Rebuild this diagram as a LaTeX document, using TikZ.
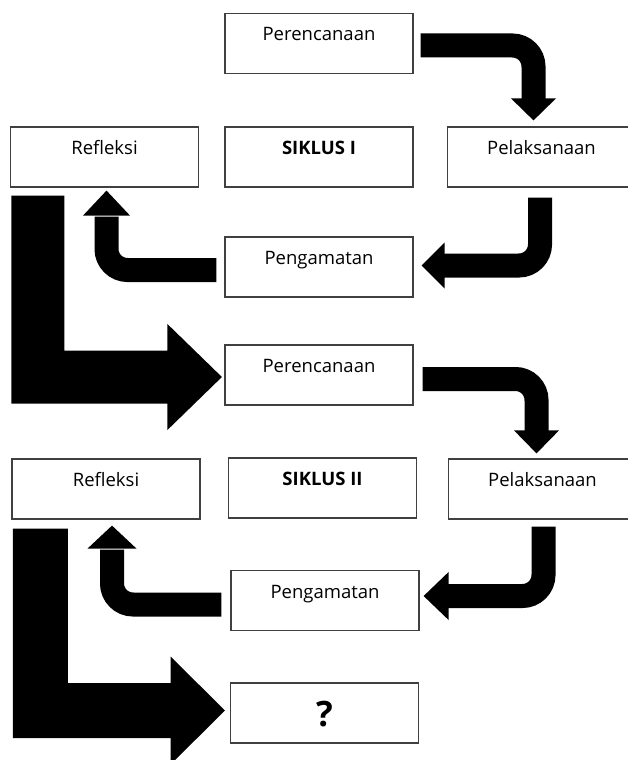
\documentclass[tikz,border=0pt]{standalone}
\usepackage{fontspec}
\setmainfont{Open Sans}
\usetikzlibrary{calc}
\begin{document}
\begin{tikzpicture}[x=1pt,y=-1pt,
  box/.style={draw=black!75, line width=1.2pt, rectangle, minimum width=188pt,
    minimum height=60pt, inner sep=2pt, text=black,
    font=\fontsize{18.5}{20}\selectfont, text height=14pt, text depth=19pt},
  qbox/.style={box, font=\fontsize{35}{37}\selectfont\bfseries, text height=27pt, text depth=0pt},
  band/.style={draw=black, line width=24pt, rounded corners=21pt},
  head/.style={fill=black}]
\useasboundingbox (0,0) rectangle (627,760);
% boxes
\node[box] (per1) at (319,43.5) {Perencanaan};
\node[box] (sik1) at (319,157) {\bfseries SIKLUS I};
\node[box] (pel1) at (541.5,157) {Pelaksanaan};
\node[box] (ref1) at (104.5,157) {Refleksi};
\node[box] (pen1) at (319,267) {Pengamatan};
\node[box] (per2) at (319,375) {Perencanaan};
\node[box] (ref2) at (106,489) {Refleksi};
\node[box] (sik2) at (322.5,488) {\bfseries SIKLUS II};
\node[box] (pel2) at (542.5,489) {Pelaksanaan};
\node[box] (pen2) at (325,600.5) {Pengamatan};
\node[qbox] (q) at (324.5,713) {?};
% ---- cycle I ----
% Perencanaan -> Pelaksanaan
\coordinate (a1s) at ($(per1.east)+(7,2)$);
\coordinate (a1t) at ($(pel1.north)+(-8,-6)$);
\coordinate (a1b) at ($(a1t)+(0,-22)$);
\draw[band] (a1s) -| ($(a1b)+(0,1)$);
\fill[head] (a1t) -- ($(a1b)+(-22.5,0)$) -- ($(a1b)+(22.5,0)$) -- cycle;
% Pelaksanaan -> Pengamatan
\coordinate (a2s) at ($(pel1.south)+(-1.5,10)$);
\coordinate (a2t) at ($(pen1.east)+(8,-1.5)$);
\coordinate (a2b) at ($(a2t)+(23,0)$);
\draw[band] (a2s) |- ($(a2b)+(-1,0)$);
\fill[head] (a2t) -- ($(a2b)+(0,-23)$) -- ($(a2b)+(0,23)$) -- cycle;
% Pengamatan -> Refleksi
\coordinate (a3s) at ($(pen1.west)+(-8,3)$);
\coordinate (a3t) at ($(ref1.south)+(2,3)$);
\coordinate (a3b) at ($(a3t)+(0,25)$);
\draw[band] (a3s) -| ($(a3b)+(0,1)$);
\fill[head] (a3t) -- ($(a3b)+(-23.5,0)$) -- ($(a3b)+(23.5,0)$) -- cycle;
% Refleksi -> Perencanaan (cycle II)
\coordinate (b1o) at ($(ref1.south west)+(1.5,8)$);
\coordinate (b1t) at ($(per2.west)+(-2.5,2)$);
\fill[head] (b1o) -- ++(53,0) -- ($(b1o |- b1t)+(53,-26.5)$)
  -- ($(b1t)+(-54.5,-26.5)$) -- ($(b1t)+(-54.5,-53)$) -- (b1t)
  -- ($(b1t)+(-54.5,53)$) -- ($(b1t)+(-54.5,26.5)$)
  -- ($(b1o |- b1t)+(0,26.5)$) -- cycle;
% ---- cycle II ----
\coordinate (a4s) at ($(per2.east)+(9,4)$);
\coordinate (a4t) at ($(pel2.north)+(-6,-5)$);
\coordinate (a4b) at ($(a4t)+(0,-23)$);
\draw[band] (a4s) -| ($(a4b)+(0,1)$);
\fill[head] (a4t) -- ($(a4b)+(-22.5,0)$) -- ($(a4b)+(22.5,0)$) -- cycle;
\coordinate (a5s) at ($(pel2.south)+(1,7)$);
\coordinate (a5t) at ($(pen2.east)+(4,-4.5)$);
\coordinate (a5b) at ($(a5t)+(25,0)$);
\draw[band] (a5s) |- ($(a5b)+(-1,0)$);
\fill[head] (a5t) -- ($(a5b)+(0,-24)$) -- ($(a5b)+(0,24)$) -- cycle;
\coordinate (a6s) at ($(pen2.west)+(-9,4)$);
\coordinate (a6t) at ($(ref2.south)+(6,6)$);
\coordinate (a6b) at ($(a6t)+(0,23)$);
\draw[band] (a6s) -| ($(a6b)+(0,1)$);
\fill[head] (a6t) -- ($(a6b)+(-24.5,0)$) -- ($(a6b)+(24.5,0)$) -- cycle;
% Refleksi -> ?
\coordinate (b2o) at ($(ref2.south west)+(1.5,9)$);
\coordinate (b2t) at ($(q.west)+(-5,-2.5)$);
\fill[head] (b2o) -- ++(55,0) -- ($(b2o |- b2t)+(55,-27.5)$)
  -- ($(b2t)+(-54.3,-27.5)$) -- ($(b2t)+(-54.3,-54)$) -- (b2t)
  -- ($(b2t)+(-54.3,54)$) -- ($(b2t)+(-54.3,27.5)$)
  -- ($(b2o |- b2t)+(0,27.5)$) -- cycle;
\end{tikzpicture}
\end{document}
